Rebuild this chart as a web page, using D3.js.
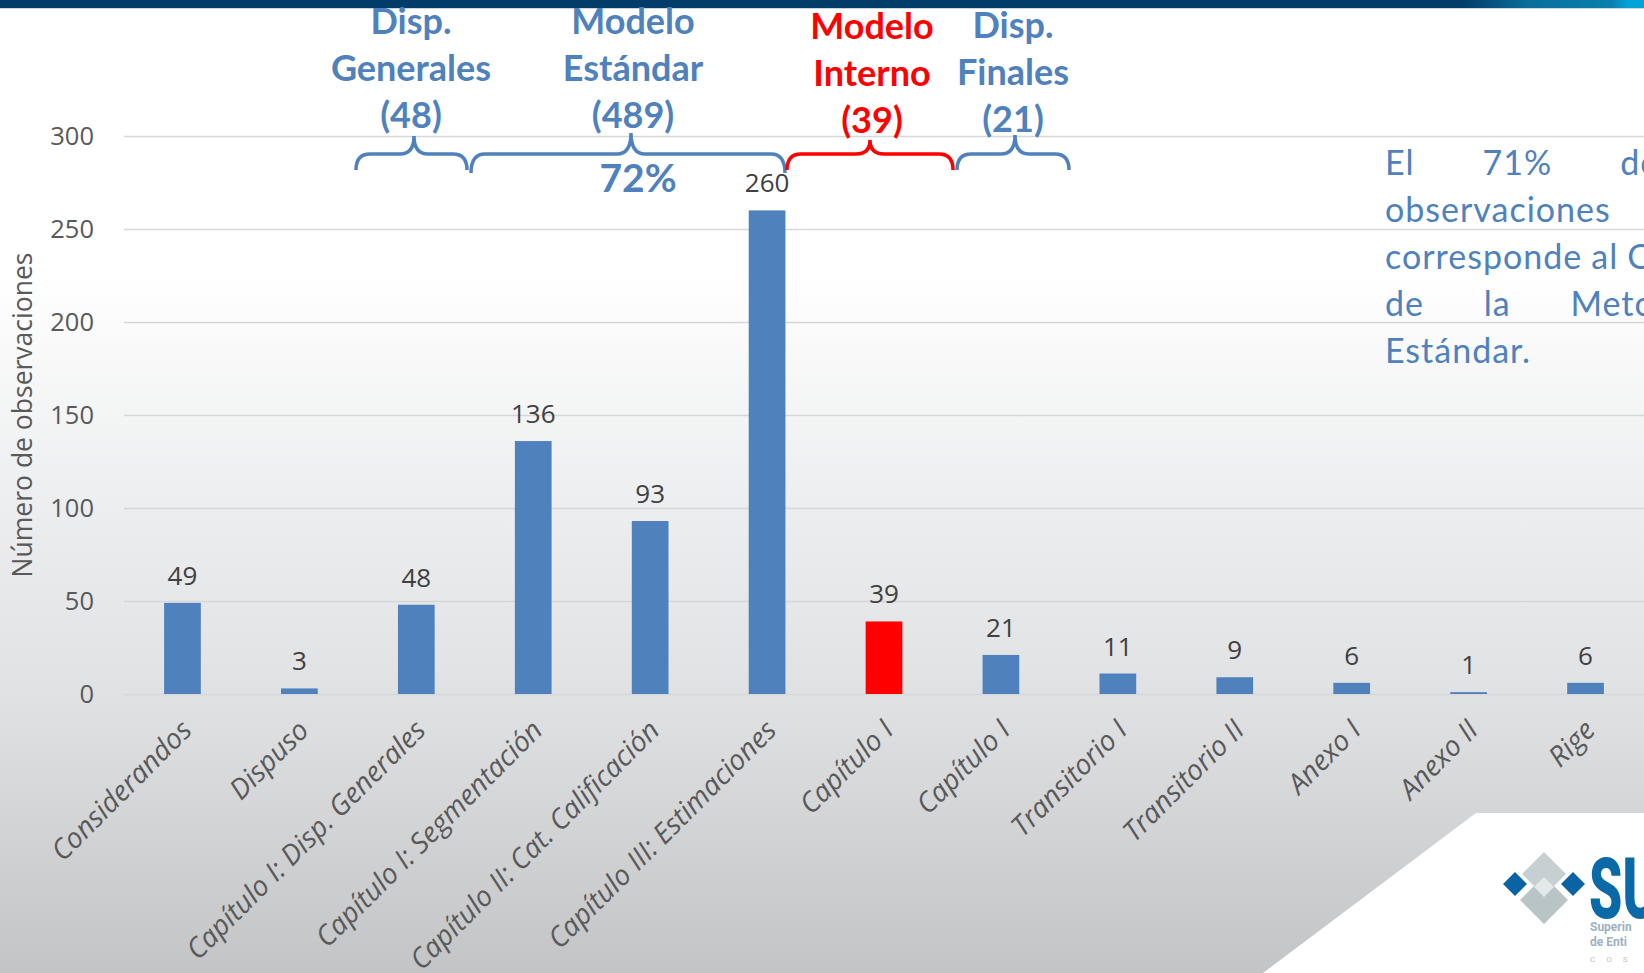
<!DOCTYPE html>
<html>
<head>
<meta charset="UTF-8">
<title>Observaciones por sección</title>
<script src="https://cdn.jsdelivr.net/npm/d3@7"></script>
<style>
  body { margin: 0; background: #fff; }
  svg { display: block; }
  .axis text { font-family: 'Open Sans', sans-serif; }
</style>
</head>
<body>
<div id="chart"></div>
<script>

// datos
var categories = ['Considerandos', 'Dispuso', 'Capítulo I: Disp. Generales', 'Capítulo I: Segmentación',
    'Capítulo II: Cat. Calificación', 'Capítulo III: Estimaciones', 'Capítulo I', 'Capítulo I',
    'Transitorio I', 'Transitorio II', 'Anexo I', 'Anexo II', 'Rige'];
var values = [49, 3, 48, 136, 93, 260, 39, 21, 11, 9, 6, 1, 6];
var highlighted = [6];          // índice de la barra roja (Modelo Interno)
var yTicks = [0, 50, 100, 150, 200, 250, 300];
var yTitle = 'Número de observaciones';

// grupos anotados sobre el gráfico
var groupLines = [['Disp.', 'Generales', '(48)'], ['Modelo', 'Estándar', '(489)'],
    ['Modelo', 'Interno', '(39)'], ['Disp.', 'Finales', '(21)']];
var groupShare = '72%';
var noteLines = [['El', '71%', 'de', 'las'], ['observaciones'], ['corresponde', 'al', 'Capítulo', 'III'],
    ['de', 'la', 'Metodología'], ['Estándar.']];
var noteJustify = [true, false, false, true, false];

var W = 1644, H = 973;
var margin = {top: 136, right: 0, bottom: 279, left: 124};
var blue = '#4f81bd', red = '#ff0000';

var svg = d3.select('#chart').append('svg')
    .attr('width', W)
    .attr('height', H);

var defs = svg.append('defs');
var bg = defs.append('linearGradient').attr('id', 'bg')
    .attr('x1', 0).attr('y1', 0).attr('x2', 0).attr('y2', 1);
bg.append('stop').attr('offset', '0%').attr('stop-color', '#ffffff');
bg.append('stop').attr('offset', '28%').attr('stop-color', '#ffffff');
bg.append('stop').attr('offset', '50%').attr('stop-color', '#eeeff0');
bg.append('stop').attr('offset', '72%').attr('stop-color', '#e0e1e3');
bg.append('stop').attr('offset', '100%').attr('stop-color', '#c3c4c6');

var topBar = defs.append('linearGradient').attr('id', 'topbar')
    .attr('x1', 0).attr('y1', 0).attr('x2', 1).attr('y2', 0);
topBar.append('stop').attr('offset', '0%').attr('stop-color', '#023d69');
topBar.append('stop').attr('offset', '89%').attr('stop-color', '#023d69');
topBar.append('stop').attr('offset', '93%').attr('stop-color', '#0a6f99');
topBar.append('stop').attr('offset', '98%').attr('stop-color', '#0a7fae');
topBar.append('stop').attr('offset', '99%').attr('stop-color', '#03a3d8');

svg.append('rect').attr('width', W).attr('height', H).attr('fill', 'url(#bg)');
svg.append('rect').attr('width', W).attr('height', 8).attr('fill', 'url(#topbar)');
svg.append('rect').attr('y', 8).attr('width', W).attr('height', 1).attr('fill', '#c9d6df');

// esquina blanca con el logo
svg.append('path')
    .attr('d', 'M1476,813 L1644,813 L1644,973 L1263,973 Z')
    .attr('fill', '#ffffff');

var logo = svg.append('g');
function diamond(cx, cy, r) {
    return 'M' + cx + ',' + (cy - r) + ' L' + (cx + r) + ',' + cy + ' L' + cx + ',' + (cy + r) + ' L' + (cx - r) + ',' + cy + ' Z';
}
logo.append('path').attr('d', diamond(1544, 900, 24)).attr('fill', '#b9c4c6');
logo.append('path').attr('d', diamond(1544, 874, 22)).attr('fill', '#c6cfd1');
logo.append('path').attr('d', diamond(1544, 887, 10)).attr('fill', '#e3e8e9');
logo.append('path').attr('d', diamond(1515, 884, 12)).attr('fill', '#0a63a3');
logo.append('path').attr('d', diamond(1573, 884, 12)).attr('fill', '#0a63a3');
logo.append('text')
    .attr('transform', 'translate(1589,918) scale(0.62,1)')
    .attr('font-family', 'Roboto, sans-serif').attr('font-weight', 900)
    .attr('font-size', 86).attr('fill', '#0a6aa8')
    .text('SU');
logo.append('text').attr('x', 1590).attr('y', 931)
    .attr('font-family', 'Roboto, sans-serif').attr('font-weight', 700)
    .attr('font-size', 12).attr('fill', '#9db1c1').text('Superin');
logo.append('text').attr('x', 1590).attr('y', 946)
    .attr('font-family', 'Roboto, sans-serif').attr('font-weight', 700)
    .attr('font-size', 12).attr('fill', '#9db1c1').text('de Enti');
logo.append('text').attr('x', 1590).attr('y', 962)
    .attr('font-family', 'Roboto, sans-serif').attr('letter-spacing', 11)
    .attr('font-size', 8).attr('fill', '#b8c4cc').text('COS');

var width = W - margin.left - margin.right,
    height = H - margin.top - margin.bottom;

var xScale = d3.scaleBand()
    .domain(d3.range(categories.length))
    .range([0, width])
    .paddingInner(0.686)
    .paddingOuter(0.343);

var yScale = d3.scaleLinear()
    .domain([0, 300])
    .range([height, 0]);

var g = svg.append('g')
    .attr('transform', 'translate(' + margin.left + ',' + margin.top + ')');

// ejes y rejilla
var yAxis = d3.axisLeft(yScale)
    .tickValues(yTicks)
    .tickSize(-width)
    .tickPadding(30);

g.append('g')
    .attr('class', 'y axis')
    .call(yAxis)
    .call(function(a) {
        a.select('.domain').remove();
        a.selectAll('line').attr('stroke', '#d6d7d9').attr('stroke-width', 1.5);
        a.selectAll('text').attr('font-size', 25.5).attr('fill', '#595959');
    });

var xAxis = d3.axisBottom(xScale)
    .tickSize(0)
    .tickFormat(function(i) { return categories[i]; });

g.append('g')
    .attr('class', 'x axis')
    .attr('transform', 'translate(0,' + height + ')')
    .call(xAxis)
    .call(function(a) {
        a.select('.domain').remove();
        a.selectAll('text')
            .attr('x', 0).attr('y', 0).attr('dy', 0)
            .attr('text-anchor', 'end')
            .attr('font-size', 28)
            .attr('font-style', 'italic')
            .attr('fill', '#595959')
            .attr('transform', 'translate(11,38) rotate(-45)');
    });

svg.append('text')
    .attr('transform', 'translate(32,' + (margin.top + height / 2) + ') rotate(-90)')
    .attr('text-anchor', 'middle')
    .attr('font-family', "'Open Sans', sans-serif")
    .attr('font-size', 26.5)
    .attr('fill', '#595959')
    .text(yTitle);

// barras
g.selectAll('rect.bar')
    .data(values)
    .enter()
    .append('rect')
    .attr('class', 'bar')
    .attr('x', function(d, i) { return xScale(i); })
    .attr('width', xScale.bandwidth())
    .attr('y', function(d) { return yScale(d); })
    .attr('height', function(d) { return height - yScale(d); })
    .attr('fill', function(d, i) { return highlighted.indexOf(i) >= 0 ? red : blue; });

g.selectAll('text.value')
    .data(values)
    .enter()
    .append('text')
    .attr('class', 'value')
    .attr('x', function(d, i) { return xScale(i) + xScale.bandwidth() / 2; })
    .attr('y', function(d) { return yScale(d) - 18; })
    .attr('text-anchor', 'middle')
    .attr('font-family', "'Open Sans', sans-serif")
    .attr('font-size', 26)
    .attr('fill', '#404040')
    .text(function(d) { return d; });

// llaves y títulos de grupos
function brace(x1, xm, x2, yEnd, yMid, yTip) {
    var r = 14;
    return 'M' + x1 + ',' + yEnd +
        ' Q' + x1 + ',' + yMid + ' ' + (x1 + r) + ',' + yMid +
        ' L' + (xm - r) + ',' + yMid +
        ' Q' + xm + ',' + yMid + ' ' + xm + ',' + yTip +
        ' Q' + xm + ',' + yMid + ' ' + (xm + r) + ',' + yMid +
        ' L' + (x2 - r) + ',' + yMid +
        ' Q' + x2 + ',' + yMid + ' ' + x2 + ',' + yEnd;
}

var groupLayout = [
    {x1: 356, xm: 414, x2: 467, tip: 136, end: 170, cx: 411, y0: 34, color: blue},
    {x1: 471, xm: 631, x2: 785, tip: 133, end: 173, cx: 633, y0: 34, color: blue},
    {x1: 787, xm: 870, x2: 953, tip: 140, end: 170, cx: 872, y0: 39, color: red},
    {x1: 957, xm: 1015, x2: 1069, tip: 135, end: 170, cx: 1013, y0: 38, color: blue}
];

groupLayout.forEach(function(b, k) {
    svg.append('path')
        .attr('d', brace(b.x1, b.xm, b.x2, b.end, 154, b.tip))
        .attr('fill', 'none')
        .attr('stroke', b.color)
        .attr('stroke-width', 3.5);
    var t = svg.append('text')
        .attr('text-anchor', 'middle')
        .attr('font-family', 'Lato, sans-serif')
        .attr('font-weight', 700)
        .attr('font-size', 36)
        .attr('fill', b.color);
    groupLines[k].forEach(function(line, j) {
        t.append('tspan').attr('x', b.cx).attr('y', b.y0 + j * 47).text(line);
    });
});

svg.append('text')
    .attr('x', 638).attr('y', 192)
    .attr('text-anchor', 'middle')
    .attr('font-family', 'Lato, sans-serif')
    .attr('font-weight', 700)
    .attr('font-size', 39)
    .attr('fill', blue)
    .text(groupShare);

// nota justificada a la derecha (recortada por el borde)
var noteX = 1385, noteW = 385, noteSpace = 9;
noteLines.forEach(function(words, j) {
    var y = 175 + j * 47;
    var nodes = words.map(function(w) {
        return svg.append('text')
            .attr('y', y)
            .attr('font-family', 'Lato, sans-serif')
            .attr('font-size', 34)
            .attr('letter-spacing', 1)
            .attr('fill', blue)
            .text(w);
    });
    var widths = nodes.map(function(n) { return n.node().getComputedTextLength(); });
    var total = d3.sum(widths);
    var gap = (noteJustify[j] && words.length > 1) ? (noteW - total) / (words.length - 1) : noteSpace;
    var x = noteX;
    nodes.forEach(function(n, i) {
        n.attr('x', x);
        x += widths[i] + gap;
    });
});

</script>
</body>
</html>
